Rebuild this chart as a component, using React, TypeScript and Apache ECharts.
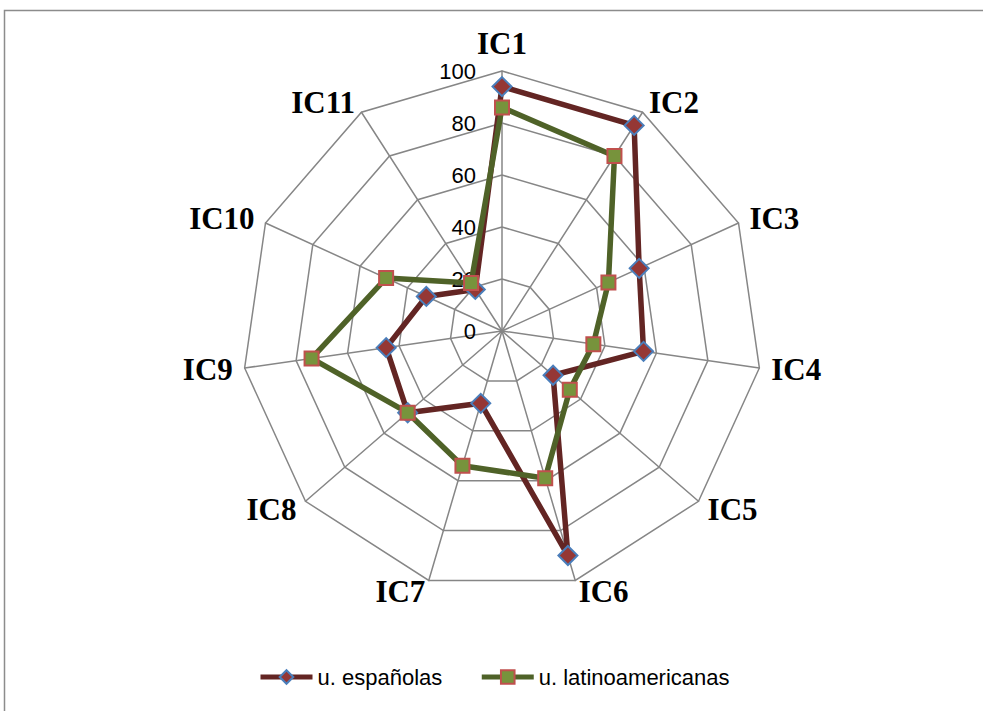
import React, { useEffect, useRef } from "react";
import * as echarts from "echarts";

const indicatorNames = ["IC1", "IC2", "IC3", "IC4", "IC5", "IC6", "IC7", "IC8", "IC9", "IC10", "IC11"];
const espanolas = [94, 94, 58, 55, 26, 90, 29, 48, 45, 32, 19];
const latinoamericanas = [86, 80, 45, 35.5, 34.5, 59, 54, 48, 74, 49, 22];
const seriesNames = ["u. españolas", "u. latinoamericanas"];
const axisMax = 100;

// ECharts radar runs counter-clockwise; reorder so the picture runs clockwise.
const order = [0, ...Array.from({ length: indicatorNames.length - 1 }, (_, i) => indicatorNames.length - 1 - i)];
const reorder = (arr: any[]) => order.map((i) => arr[i]);

const RED_LINE = "#632523";
const RED_FILL = "#953735";
const BLUE_BORDER = "#4A7EBB";
const GREEN_LINE = "#4F6228";
const GREEN_FILL = "#77933C";
const RED_BORDER = "#C0504D";
const GRID = "#868686";

export default function App() {
  const ref = useRef<HTMLDivElement>(null);
  useEffect(() => {
    if (!ref.current) return;
    const chart = echarts.init(ref.current, undefined, { renderer: "svg" });
    const styles = [
      { symbol: "diamond", size: 19, line: RED_LINE, fill: RED_FILL, border: BLUE_BORDER },
      { symbol: "rect", size: 14, line: GREEN_LINE, fill: GREEN_FILL, border: RED_BORDER },
    ];
    const dataSets = [espanolas, latinoamericanas];
    chart.setOption({
      animation: false,
      backgroundColor: "#ffffff",
      graphic: [
        {
          type: "rect",
          shape: { x: 4.5, y: 10.5, width: 1200, height: 1000 },
          style: { fill: "none", stroke: "#8c8c8c", lineWidth: 1.5 },
          silent: true,
        },
      ],
      legend: {
        data: seriesNames,
        left: 253,
        top: 661,
        itemWidth: 52,
        itemHeight: 17,
        itemGap: 37,
        lineStyle: { width: 5 },
        textStyle: { fontFamily: "Liberation Sans", fontSize: 22, color: "#000" },
      },
      grid: { show: false, left: 0, top: 0, width: 10, height: 10 },
      xAxis: { show: false, type: "value" },
      yAxis: { show: false, type: "value" },
      radar: {
        center: [502, 331],
        radius: 260,
        startAngle: 90,
        shape: "polygon",
        splitNumber: 5,
        nameGap: 12,
        axisName: {
          color: "#000",
          fontFamily: "Liberation Serif",
          fontWeight: "bold",
          fontSize: 31,
        },
        indicator: reorder(indicatorNames).map((name, i) =>
          i === 0
            ? {
                name,
                min: 0,
                max: axisMax,
                axisLabel: {
                  show: true,
                  margin: 26,
                  fontFamily: "Liberation Sans",
                  fontSize: 22,
                  color: "#000",
                },
              }
            : { name, min: 0, max: axisMax }
        ),
        axisLabel: { show: false },
        axisTick: { show: false },
        axisLine: { lineStyle: { color: GRID, width: 1.5 } },
        splitLine: { lineStyle: { color: GRID, width: 1.5 } },
        splitArea: { show: false },
      },
      series: [
        ...seriesNames.map((name, k) => ({
          type: "line",
          name,
          data: [],
          symbol: styles[k].symbol,
          symbolSize: styles[k].size,
          lineStyle: { color: styles[k].line, width: 5 },
          itemStyle: { color: styles[k].fill, borderColor: styles[k].border, borderWidth: 2 },
        })),
        {
          type: "radar",
          data: seriesNames.map((name, k) => ({
            name,
            value: reorder(dataSets[k]),
            symbol: styles[k].symbol,
            symbolSize: styles[k].size,
            lineStyle: { color: styles[k].line, width: 5.5 },
            itemStyle: { color: styles[k].fill, borderColor: styles[k].border, borderWidth: 2 },
          })),
        },
      ],
    });
    return () => chart.dispose();
  }, []);
  return (
    <div
      ref={ref}
      style={{ position: "absolute", left: 0, top: 0, width: 983, height: 711, background: "#fff" }}
    />
  );
}
